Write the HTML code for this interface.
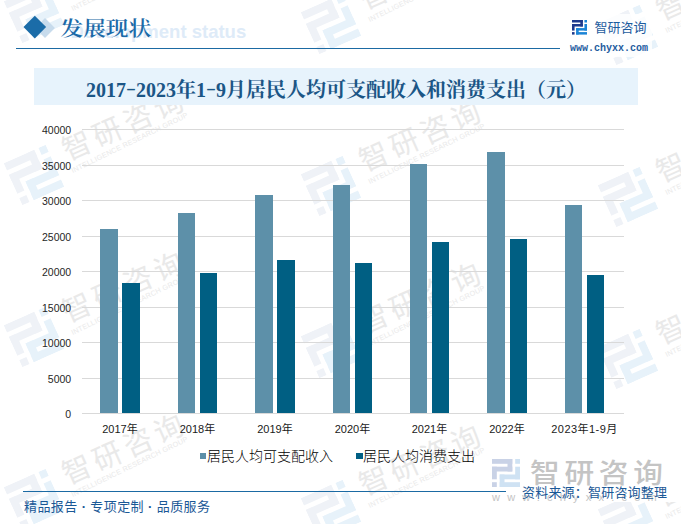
<!DOCTYPE html>
<html lang="zh"><head><meta charset="utf-8"><title>发展现状</title>
<style>
html,body{margin:0;padding:0;background:#fff;}
body{width:681px;height:524px;position:relative;overflow:hidden;font-family:"Liberation Sans","Noto Sans CJK SC",sans-serif;}
.abs{position:absolute}
.gl{position:absolute;left:81.5px;width:542.0px;height:1px;background:#d9d9d9}
.yl{position:absolute;left:29.2px;width:42px;text-align:right;font-size:10.5px;line-height:14px;color:#262626}
.xl{position:absolute;top:421.5px;width:80px;text-align:center;font-size:11px;line-height:14px;color:#1a1a1a;white-space:nowrap}
.ba{position:absolute;background:#5d90a9}
.bb{position:absolute;background:#005f83}
.dg{display:inline-block;transform:scaleY(1.1);transform-origin:50% 72%}
.hy{display:inline-block;width:10px;text-align:center;position:relative;top:-1.5px;transform:scale(1.5,0.75)}
.wm{position:absolute;width:0;height:0;transform:rotate(-24deg);transform-origin:0 0;white-space:nowrap;pointer-events:none}
.wmi{position:absolute;left:-23px;top:-23px;width:46px;height:46px}
.wmt{position:absolute;left:36.5px;top:-29px;font-size:29px;line-height:40px;color:#e9e9e9;letter-spacing:4.5px;font-weight:400}
.wme{position:absolute;left:36px;top:7px;font-size:7.2px;line-height:10px;color:#e9e9e9;letter-spacing:0.25px;transform:rotate(-2deg);transform-origin:0 50%}
</style></head><body>
<div class="wm" style="left:34px;top:13px;"><svg class="wmi" viewBox="0 0 28 28" preserveAspectRatio="none" style=""><g fill="#eff2f7"><rect x="0" y="0" width="20.3" height="4.8"/><rect x="15.5" y="0" width="4.8" height="12.5"/><rect x="0" y="7.7" width="20.3" height="4.8"/><rect x="0" y="7.7" width="4.8" height="12.6"/><rect x="0" y="23.2" width="4.8" height="4.8"/></g><g fill="#e7f2fa"><rect x="23.2" y="0" width="4.8" height="4.8"/><rect x="23.2" y="7.7" width="4.8" height="12.6"/><rect x="7.7" y="15.5" width="20.3" height="4.8"/><rect x="7.7" y="15.5" width="4.8" height="12.5"/><rect x="7.7" y="23.2" width="20.3" height="4.8"/></g></svg><span class="wmt">智研咨询</span><span class="wme">INTELLIGENCE RESEARCH GROUP</span></div><div class="wm" style="left:34px;top:175px;"><svg class="wmi" viewBox="0 0 28 28" preserveAspectRatio="none" style=""><g fill="#eff2f7"><rect x="0" y="0" width="20.3" height="4.8"/><rect x="15.5" y="0" width="4.8" height="12.5"/><rect x="0" y="7.7" width="20.3" height="4.8"/><rect x="0" y="7.7" width="4.8" height="12.6"/><rect x="0" y="23.2" width="4.8" height="4.8"/></g><g fill="#e7f2fa"><rect x="23.2" y="0" width="4.8" height="4.8"/><rect x="23.2" y="7.7" width="4.8" height="12.6"/><rect x="7.7" y="15.5" width="20.3" height="4.8"/><rect x="7.7" y="15.5" width="4.8" height="12.5"/><rect x="7.7" y="23.2" width="20.3" height="4.8"/></g></svg><span class="wmt">智研咨询</span><span class="wme">INTELLIGENCE RESEARCH GROUP</span></div><div class="wm" style="left:34px;top:337px;"><svg class="wmi" viewBox="0 0 28 28" preserveAspectRatio="none" style=""><g fill="#eff2f7"><rect x="0" y="0" width="20.3" height="4.8"/><rect x="15.5" y="0" width="4.8" height="12.5"/><rect x="0" y="7.7" width="20.3" height="4.8"/><rect x="0" y="7.7" width="4.8" height="12.6"/><rect x="0" y="23.2" width="4.8" height="4.8"/></g><g fill="#e7f2fa"><rect x="23.2" y="0" width="4.8" height="4.8"/><rect x="23.2" y="7.7" width="4.8" height="12.6"/><rect x="7.7" y="15.5" width="20.3" height="4.8"/><rect x="7.7" y="15.5" width="4.8" height="12.5"/><rect x="7.7" y="23.2" width="20.3" height="4.8"/></g></svg><span class="wmt">智研咨询</span><span class="wme">INTELLIGENCE RESEARCH GROUP</span></div><div class="wm" style="left:34px;top:499px;"><svg class="wmi" viewBox="0 0 28 28" preserveAspectRatio="none" style=""><g fill="#eff2f7"><rect x="0" y="0" width="20.3" height="4.8"/><rect x="15.5" y="0" width="4.8" height="12.5"/><rect x="0" y="7.7" width="20.3" height="4.8"/><rect x="0" y="7.7" width="4.8" height="12.6"/><rect x="0" y="23.2" width="4.8" height="4.8"/></g><g fill="#e7f2fa"><rect x="23.2" y="0" width="4.8" height="4.8"/><rect x="23.2" y="7.7" width="4.8" height="12.6"/><rect x="7.7" y="15.5" width="20.3" height="4.8"/><rect x="7.7" y="15.5" width="4.8" height="12.5"/><rect x="7.7" y="23.2" width="20.3" height="4.8"/></g></svg><span class="wmt">智研咨询</span><span class="wme">INTELLIGENCE RESEARCH GROUP</span></div><div class="wm" style="left:331px;top:24px;"><svg class="wmi" viewBox="0 0 28 28" preserveAspectRatio="none" style=""><g fill="#eff2f7"><rect x="0" y="0" width="20.3" height="4.8"/><rect x="15.5" y="0" width="4.8" height="12.5"/><rect x="0" y="7.7" width="20.3" height="4.8"/><rect x="0" y="7.7" width="4.8" height="12.6"/><rect x="0" y="23.2" width="4.8" height="4.8"/></g><g fill="#e7f2fa"><rect x="23.2" y="0" width="4.8" height="4.8"/><rect x="23.2" y="7.7" width="4.8" height="12.6"/><rect x="7.7" y="15.5" width="20.3" height="4.8"/><rect x="7.7" y="15.5" width="4.8" height="12.5"/><rect x="7.7" y="23.2" width="20.3" height="4.8"/></g></svg><span class="wmt">智研咨询</span><span class="wme">INTELLIGENCE RESEARCH GROUP</span></div><div class="wm" style="left:331px;top:186px;"><svg class="wmi" viewBox="0 0 28 28" preserveAspectRatio="none" style=""><g fill="#eff2f7"><rect x="0" y="0" width="20.3" height="4.8"/><rect x="15.5" y="0" width="4.8" height="12.5"/><rect x="0" y="7.7" width="20.3" height="4.8"/><rect x="0" y="7.7" width="4.8" height="12.6"/><rect x="0" y="23.2" width="4.8" height="4.8"/></g><g fill="#e7f2fa"><rect x="23.2" y="0" width="4.8" height="4.8"/><rect x="23.2" y="7.7" width="4.8" height="12.6"/><rect x="7.7" y="15.5" width="20.3" height="4.8"/><rect x="7.7" y="15.5" width="4.8" height="12.5"/><rect x="7.7" y="23.2" width="20.3" height="4.8"/></g></svg><span class="wmt">智研咨询</span><span class="wme">INTELLIGENCE RESEARCH GROUP</span></div><div class="wm" style="left:331px;top:348px;"><svg class="wmi" viewBox="0 0 28 28" preserveAspectRatio="none" style=""><g fill="#eff2f7"><rect x="0" y="0" width="20.3" height="4.8"/><rect x="15.5" y="0" width="4.8" height="12.5"/><rect x="0" y="7.7" width="20.3" height="4.8"/><rect x="0" y="7.7" width="4.8" height="12.6"/><rect x="0" y="23.2" width="4.8" height="4.8"/></g><g fill="#e7f2fa"><rect x="23.2" y="0" width="4.8" height="4.8"/><rect x="23.2" y="7.7" width="4.8" height="12.6"/><rect x="7.7" y="15.5" width="20.3" height="4.8"/><rect x="7.7" y="15.5" width="4.8" height="12.5"/><rect x="7.7" y="23.2" width="20.3" height="4.8"/></g></svg><span class="wmt">智研咨询</span><span class="wme">INTELLIGENCE RESEARCH GROUP</span></div><div class="wm" style="left:331px;top:510px;"><svg class="wmi" viewBox="0 0 28 28" preserveAspectRatio="none" style=""><g fill="#eff2f7"><rect x="0" y="0" width="20.3" height="4.8"/><rect x="15.5" y="0" width="4.8" height="12.5"/><rect x="0" y="7.7" width="20.3" height="4.8"/><rect x="0" y="7.7" width="4.8" height="12.6"/><rect x="0" y="23.2" width="4.8" height="4.8"/></g><g fill="#e7f2fa"><rect x="23.2" y="0" width="4.8" height="4.8"/><rect x="23.2" y="7.7" width="4.8" height="12.6"/><rect x="7.7" y="15.5" width="20.3" height="4.8"/><rect x="7.7" y="15.5" width="4.8" height="12.5"/><rect x="7.7" y="23.2" width="20.3" height="4.8"/></g></svg><span class="wmt">智研咨询</span><span class="wme">INTELLIGENCE RESEARCH GROUP</span></div><div class="wm" style="left:628px;top:35px;"><svg class="wmi" viewBox="0 0 28 28" preserveAspectRatio="none" style=""><g fill="#eff2f7"><rect x="0" y="0" width="20.3" height="4.8"/><rect x="15.5" y="0" width="4.8" height="12.5"/><rect x="0" y="7.7" width="20.3" height="4.8"/><rect x="0" y="7.7" width="4.8" height="12.6"/><rect x="0" y="23.2" width="4.8" height="4.8"/></g><g fill="#e7f2fa"><rect x="23.2" y="0" width="4.8" height="4.8"/><rect x="23.2" y="7.7" width="4.8" height="12.6"/><rect x="7.7" y="15.5" width="20.3" height="4.8"/><rect x="7.7" y="15.5" width="4.8" height="12.5"/><rect x="7.7" y="23.2" width="20.3" height="4.8"/></g></svg><span class="wmt">智研咨询</span><span class="wme">INTELLIGENCE RESEARCH GROUP</span></div><div class="wm" style="left:628px;top:197px;"><svg class="wmi" viewBox="0 0 28 28" preserveAspectRatio="none" style=""><g fill="#eff2f7"><rect x="0" y="0" width="20.3" height="4.8"/><rect x="15.5" y="0" width="4.8" height="12.5"/><rect x="0" y="7.7" width="20.3" height="4.8"/><rect x="0" y="7.7" width="4.8" height="12.6"/><rect x="0" y="23.2" width="4.8" height="4.8"/></g><g fill="#e7f2fa"><rect x="23.2" y="0" width="4.8" height="4.8"/><rect x="23.2" y="7.7" width="4.8" height="12.6"/><rect x="7.7" y="15.5" width="20.3" height="4.8"/><rect x="7.7" y="15.5" width="4.8" height="12.5"/><rect x="7.7" y="23.2" width="20.3" height="4.8"/></g></svg><span class="wmt">智研咨询</span><span class="wme">INTELLIGENCE RESEARCH GROUP</span></div><div class="wm" style="left:628px;top:359px;"><svg class="wmi" viewBox="0 0 28 28" preserveAspectRatio="none" style=""><g fill="#eff2f7"><rect x="0" y="0" width="20.3" height="4.8"/><rect x="15.5" y="0" width="4.8" height="12.5"/><rect x="0" y="7.7" width="20.3" height="4.8"/><rect x="0" y="7.7" width="4.8" height="12.6"/><rect x="0" y="23.2" width="4.8" height="4.8"/></g><g fill="#e7f2fa"><rect x="23.2" y="0" width="4.8" height="4.8"/><rect x="23.2" y="7.7" width="4.8" height="12.6"/><rect x="7.7" y="15.5" width="20.3" height="4.8"/><rect x="7.7" y="15.5" width="4.8" height="12.5"/><rect x="7.7" y="23.2" width="20.3" height="4.8"/></g></svg><span class="wmt">智研咨询</span><span class="wme">INTELLIGENCE RESEARCH GROUP</span></div><div class="wm" style="left:628px;top:521px;"><svg class="wmi" viewBox="0 0 28 28" preserveAspectRatio="none" style=""><g fill="#eff2f7"><rect x="0" y="0" width="20.3" height="4.8"/><rect x="15.5" y="0" width="4.8" height="12.5"/><rect x="0" y="7.7" width="20.3" height="4.8"/><rect x="0" y="7.7" width="4.8" height="12.6"/><rect x="0" y="23.2" width="4.8" height="4.8"/></g><g fill="#e7f2fa"><rect x="23.2" y="0" width="4.8" height="4.8"/><rect x="23.2" y="7.7" width="4.8" height="12.6"/><rect x="7.7" y="15.5" width="20.3" height="4.8"/><rect x="7.7" y="15.5" width="4.8" height="12.5"/><rect x="7.7" y="23.2" width="20.3" height="4.8"/></g></svg><span class="wmt">智研咨询</span><span class="wme">INTELLIGENCE RESEARCH GROUP</span></div>
<!-- header -->
<div class="abs" style="left:564px;top:14px;width:88px;height:43px;background:rgba(255,255,255,0.82)"></div>
<div class="abs" style="left:37.5px;top:20.5px;width:14px;height:14px;background:#c7dbec;transform:rotate(45deg);transform-origin:50% 50%"></div>
<div class="abs" style="left:26.5px;top:18.7px;width:15.6px;height:15.6px;background:#1b6ca8;transform:rotate(45deg);transform-origin:50% 50%"></div>
<div class="abs" style="left:70.4px;top:20px;font-size:18.5px;line-height:24px;font-weight:700;color:#deebf8;letter-spacing:0px;white-space:nowrap">Development status</div>
<div class="abs" style="left:60.5px;top:13.5px;font-family:'Liberation Serif','Noto Serif CJK SC',serif;font-size:22.7px;line-height:30px;font-weight:600;color:#1b6aa8;white-space:nowrap;transform:scaleY(0.88);transform-origin:0 84%">发展现状</div>
<div class="abs" style="left:15.5px;top:47.5px;width:544.5px;height:1.5px;background:#1b6aa3"></div>
<svg class="abs" viewBox="0 0 28 28" preserveAspectRatio="none" style="left:572px;top:20px;width:15px;height:14.6px"><g fill="#1f3a8c"><rect x="0" y="0" width="20.3" height="4.8"/><rect x="15.5" y="0" width="4.8" height="12.5"/><rect x="0" y="7.7" width="20.3" height="4.8"/><rect x="0" y="7.7" width="4.8" height="12.6"/><rect x="0" y="23.2" width="4.8" height="4.8"/></g><g fill="#1b84d6"><rect x="23.2" y="0" width="4.8" height="4.8"/><rect x="23.2" y="7.7" width="4.8" height="12.6"/><rect x="7.7" y="15.5" width="20.3" height="4.8"/><rect x="7.7" y="15.5" width="4.8" height="12.5"/><rect x="7.7" y="23.2" width="20.3" height="4.8"/></g></svg>
<div class="abs" style="left:594.5px;top:18.5px;font-size:13px;line-height:18px;color:#1d5c9e;white-space:nowrap;letter-spacing:0px">智研咨询</div>
<div class="abs" style="left:570px;top:42.5px;font-family:'Liberation Mono',monospace;font-size:10px;line-height:12px;color:#1d5c9e;white-space:nowrap;letter-spacing:0px;font-weight:700">www.chyxx.com</div>
<!-- title band -->
<div class="abs" style="left:34px;top:68px;width:603.8px;height:37px;background:#e7f3fc"></div>
<div class="abs" style="left:34px;top:71.5px;width:603.8px;height:36px;line-height:36px;text-align:center;font-family:'Liberation Serif','Noto Serif CJK SC',serif;font-size:20px;font-weight:700;color:#1b5686;white-space:nowrap"><span class="dg">2017<span class="hy">-</span>2023</span>年<span class="dg">1<span class="hy">-</span>9</span>月居民人均可支配收入和消费支出（元）</div>
<!-- chart -->
<div class="gl" style="top:129.00px"></div>
<div class="yl" style="top:123.00px">40000</div>
<div class="gl" style="top:164.50px"></div>
<div class="yl" style="top:158.50px">35000</div>
<div class="gl" style="top:200.00px"></div>
<div class="yl" style="top:194.00px">30000</div>
<div class="gl" style="top:235.50px"></div>
<div class="yl" style="top:229.50px">25000</div>
<div class="gl" style="top:271.00px"></div>
<div class="yl" style="top:265.00px">20000</div>
<div class="gl" style="top:306.50px"></div>
<div class="yl" style="top:300.50px">15000</div>
<div class="gl" style="top:342.00px"></div>
<div class="yl" style="top:336.00px">10000</div>
<div class="gl" style="top:377.50px"></div>
<div class="yl" style="top:371.50px">5000</div>
<div class="gl" style="top:413.00px"></div>
<div class="yl" style="top:407.00px">0</div>
<div class="ba" style="left:100px;width:18px;top:229px;height:184px"></div>
<div class="bb" style="left:122px;width:18px;top:283px;height:130px"></div>
<div class="xl" style="left:80.00px">2017年</div>
<div class="ba" style="left:178px;width:17px;top:213px;height:200px"></div>
<div class="bb" style="left:200px;width:17px;top:273px;height:140px"></div>
<div class="xl" style="left:157.50px">2018年</div>
<div class="ba" style="left:255px;width:18px;top:195px;height:218px"></div>
<div class="bb" style="left:277px;width:18px;top:260px;height:153px"></div>
<div class="xl" style="left:235.00px">2019年</div>
<div class="ba" style="left:333px;width:17px;top:185px;height:228px"></div>
<div class="bb" style="left:355px;width:17px;top:263px;height:150px"></div>
<div class="xl" style="left:312.50px">2020年</div>
<div class="ba" style="left:410px;width:17px;top:164px;height:249px"></div>
<div class="bb" style="left:432px;width:17px;top:242px;height:171px"></div>
<div class="xl" style="left:389.50px">2021年</div>
<div class="ba" style="left:487px;width:18px;top:152px;height:261px"></div>
<div class="bb" style="left:510px;width:17px;top:239px;height:174px"></div>
<div class="xl" style="left:467.00px">2022年</div>
<div class="ba" style="left:565px;width:17px;top:205px;height:208px"></div>
<div class="bb" style="left:587px;width:17px;top:275px;height:138px"></div>
<div class="xl" style="left:544.50px;letter-spacing:0.45px">2023年1-9月</div>
<!-- legend -->
<div class="abs" style="left:199.5px;top:452.5px;width:6.5px;height:6.5px;background:#5b8fa8"></div>
<div class="abs" style="left:207px;top:446px;font-size:14px;line-height:20px;color:#000;font-weight:300;white-space:nowrap">居民人均可支配收入</div>
<div class="abs" style="left:356px;top:452.5px;width:6.5px;height:6.5px;background:#015f84"></div>
<div class="abs" style="left:363px;top:446px;font-size:14px;line-height:20px;color:#000;font-weight:300;white-space:nowrap">居民人均消费支出</div>
<!-- bottom watermark logo -->
<div class="abs" style="left:487px;top:450px;width:194px;height:52px;background:#fff"></div>
<svg class="abs" viewBox="0 0 28 28" preserveAspectRatio="none" style="left:492px;top:459px;width:28px;height:28px"><g fill="#c9d2e6"><rect x="0" y="0" width="20.3" height="4.8"/><rect x="15.5" y="0" width="4.8" height="12.5"/><rect x="0" y="7.7" width="20.3" height="4.8"/><rect x="0" y="7.7" width="4.8" height="12.6"/><rect x="0" y="23.2" width="4.8" height="4.8"/></g><g fill="#cfe2f3"><rect x="23.2" y="0" width="4.8" height="4.8"/><rect x="23.2" y="7.7" width="4.8" height="12.6"/><rect x="7.7" y="15.5" width="20.3" height="4.8"/><rect x="7.7" y="15.5" width="4.8" height="12.5"/><rect x="7.7" y="23.2" width="20.3" height="4.8"/></g></svg>
<div class="abs" style="left:529.5px;top:455px;font-size:27px;line-height:38px;color:#c4c4c4;font-weight:500;white-space:nowrap;letter-spacing:4.3px;transform:scaleX(1.1);transform-origin:0 50%">智研咨询</div>
<div class="abs" style="left:492px;top:490px;font-size:11px;line-height:14px;color:#c4c4c4;white-space:nowrap;letter-spacing:7.2px">www.chyxx.com</div>
<!-- footer -->
<div class="abs" style="left:23px;top:490.5px;width:483px;height:1.5px;background:#1b6aa3"></div>
<div class="abs" style="left:24px;top:497.5px;font-size:13px;line-height:18px;color:#1a5896;white-space:nowrap;letter-spacing:0.4px">精品报告 <b>·</b> 专项定制 <b>·</b> 品质服务</div>
<div class="abs" style="left:522px;top:484px;font-size:13px;line-height:18px;color:#1a5896;white-space:nowrap;letter-spacing:0.2px">资料来源：智研咨询整理</div>
</body></html>
